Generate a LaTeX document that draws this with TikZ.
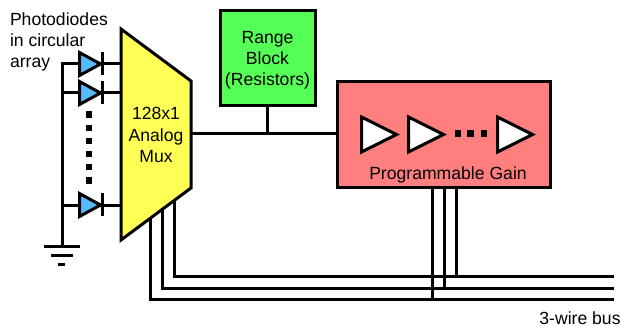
\documentclass[tikz,border=0pt]{standalone}
\usepackage{fontspec}
\setmainfont{Liberation Sans}
\definecolor{muxy}{HTML}{FFFF55}
\definecolor{rangeg}{HTML}{55FF55}
\definecolor{gainr}{HTML}{FF7F7F}
\definecolor{diodeb}{HTML}{55BBFF}
\newcommand{\lbl}{\fontsize{17.6}{21.2}\selectfont}
\tikzset{
  wire/.style={line width=3pt,line join=miter},
  boxn/.style={draw,line width=3pt,inner sep=0pt,outer sep=0pt,align=center,font=\lbl},
  txt/.style={inner sep=0pt,outer sep=0pt,font=\lbl},
  dot/.style={fill=black,inner sep=0pt,outer sep=0pt,minimum size=6.5pt},
  tri/.style={draw,line width=3pt,line join=miter},
}
\begin{document}
\begin{tikzpicture}[x=1pt,y=-1pt]
\useasboundingbox (0,0) rectangle (621,326);
% wires under shapes
\coordinate (railtop) at (62,64);
\coordinate (d2l) at (62,93);
\coordinate (d3l) at (62,205);
\coordinate (gnd) at (62,246);
\coordinate (muxr) at (191,134);
\coordinate (busA) at (614,276);
\coordinate (busB) at (614,288);
\coordinate (busC) at (614,299.5);
\node[txt,anchor=base] (bus3) at (580,324.5) {3-wire bus};
\node[boxn,fill=rangeg,minimum width=95pt,minimum height=95pt] (range) at (267.5,58.5) {};
\node[txt,align=center] (rangetxt) at (267.5,60) {Range\\Block\\(Resistors)};
\node[boxn,fill=gainr,minimum width=212.5pt,minimum height=105.5pt] (gain) at (444,134.5) {};
\draw[wire] (muxr) -- (gain.west |- muxr);
\draw[wire] (range.south) -- (range.south |- muxr);
% diode wires
\draw[wire] (121,64) -- (railtop) -- (gnd);
\draw[wire] (121,93) -- (d2l);
\draw[wire] (121,205) -- (d3l);
% ground
\draw[wire] (44,246) -- (80,246);
\draw[wire] (51,255) -- (73,255);
\draw[wire] (58,264.5) -- (65,264.5);
% diodes
\foreach \n/\y in {a/64,b/93,c/205}{
  \draw[tri,fill=diodeb] (79.5,\y-11.5) -- (100.5,\y) -- (79.5,\y+11.5) -- cycle;
  \draw[wire] (102.5,\y-12) -- (102.5,\y+11);
}
% vertical dots
\foreach \y in {114.5,127.8,141,154,167,180.7}{
  \node[dot] at (89,\y) {};
}
% bus
\draw[wire] (150,200) -- (150,299.5) -- (busC);
\draw[wire] (162,200) -- (162,288) -- (busB);
\draw[wire] (174,190) -- (174,276) -- (busA);
\draw[wire] (gain.south -| 432,0) -- (432,299.5);
\draw[wire] (gain.south -| 444,0) -- (444,288);
\draw[wire] (gain.south -| 456,0) -- (456,276);
% mux
\draw[tri,fill=muxy] (121,29) -- (191,81) -- (191,188) -- (121,240) -- cycle;
\node[txt,align=center] (mux) at (156,135) {128x1\\Analog\\Mux};
% amps
\foreach \x in {361.5,408.5,497.5}{
  \draw[tri,fill=white] (\x,117) -- (\x+35,134.5) -- (\x,152) -- cycle;
}
\foreach \x in {458,470.5,484}{
  \node[dot] at (\x,133.5) {};
}
\node[txt] (gaintxt) at (448,174.5) {Programmable Gain};
\node[txt,align=left,anchor=north west] (photo) at (10,12.5) {Photodiodes\\in circular\\array};
\end{tikzpicture}
\end{document}
